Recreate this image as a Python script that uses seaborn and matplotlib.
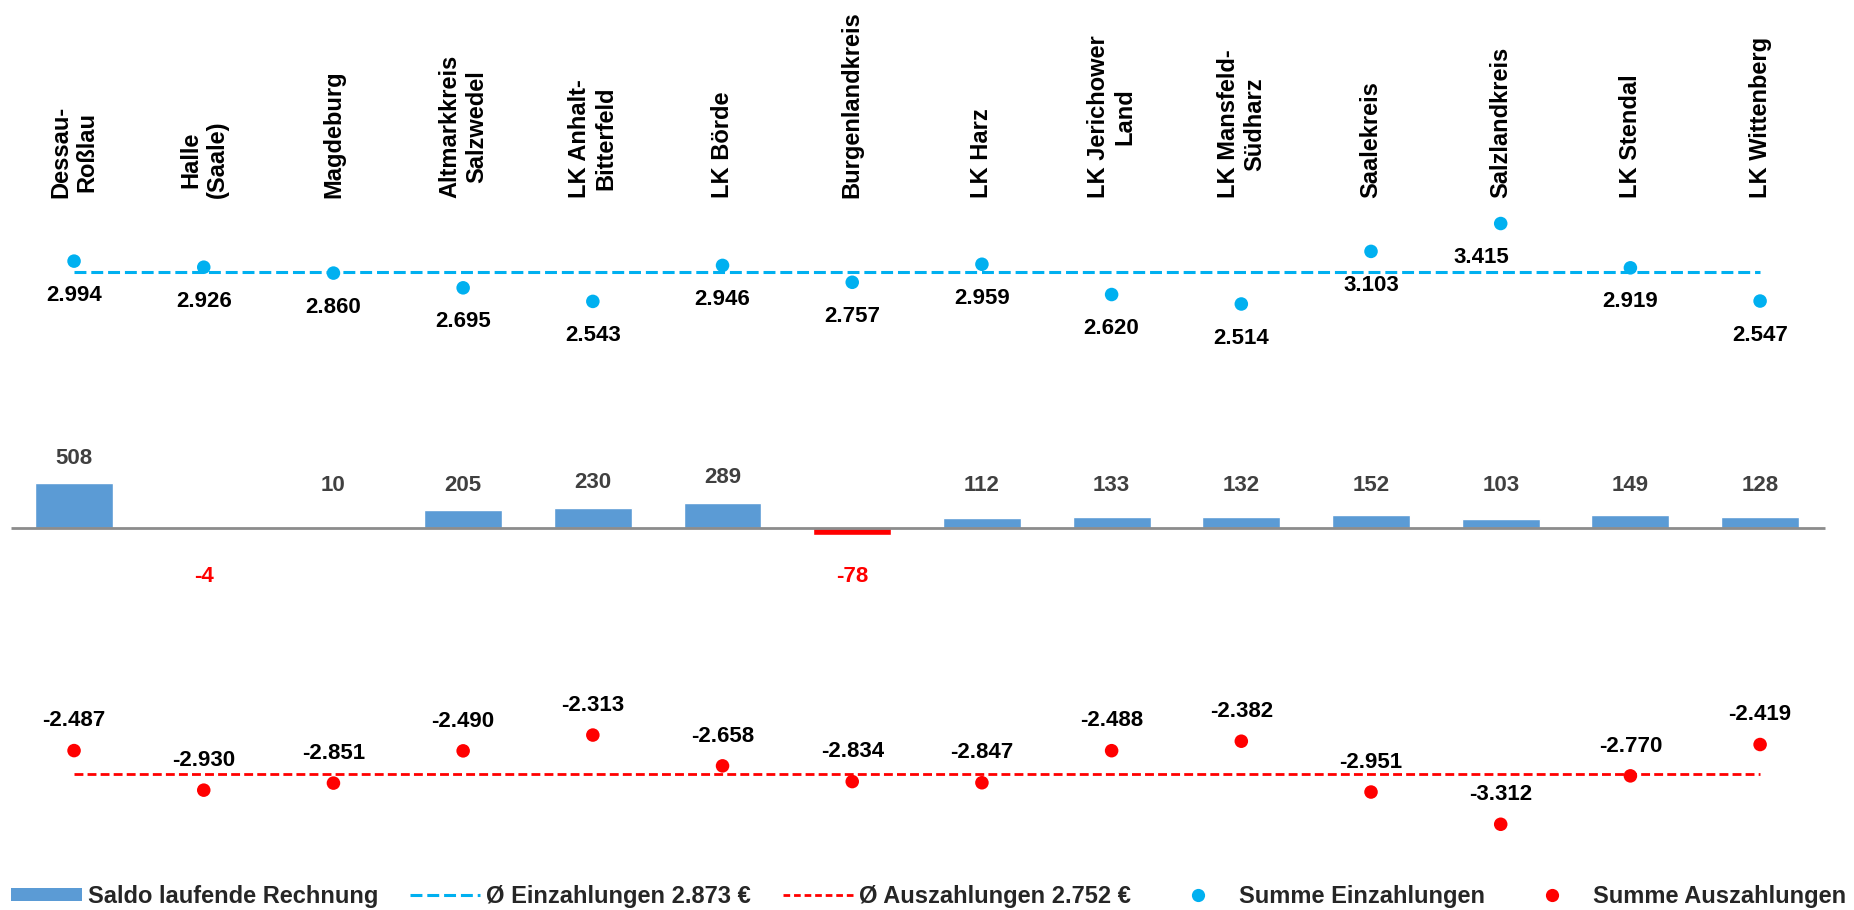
import numpy as np
import pandas as pd
import seaborn as sns
import matplotlib.pyplot as plt
from matplotlib.patches import Patch
from matplotlib.lines import Line2D

# ---- data -------------------------------------------------------------
regions = [
    "Dessau-\nRoßlau", "Halle\n(Saale)", "Magdeburg", "Altmarkkreis\nSalzwedel",
    "LK Anhalt-\nBitterfeld", "LK Börde", "Burgenlandkreis", "LK Harz",
    "LK Jerichower\nLand", "LK Mansfeld-\nSüdharz", "Saalekreis",
    "Salzlandkreis", "LK Stendal", "LK Wittenberg",
]
einzahlungen = [2994, 2926, 2860, 2695, 2543, 2946, 2757, 2959, 2620, 2514, 3103, 3415, 2919, 2547]
auszahlungen = [-2487, -2930, -2851, -2490, -2313, -2658, -2834, -2847, -2488, -2382, -2951, -3312, -2770, -2419]
saldo = [508, -4, 10, 205, 230, 289, -78, 112, 133, 132, 152, 103, 149, 128]
avg_einzahlungen = 2873
avg_auszahlungen = -2752

legend_labels = [
    "Saldo laufende Rechnung",
    "Ø Einzahlungen 2.873 €",
    "Ø Auszahlungen 2.752 €",
    "Summe Einzahlungen",
    "Summe Auszahlungen",
]

# ---- style ------------------------------------------------------------
BAR_BLUE = "#5B9BD5"
DOT_BLUE = "#00B0F0"
RED = "#FF0000"
GREY_TXT = "#404040"
BLUE_DASH = (0, (3.9, 1.6))
RED_DASH = (0, (3.2, 1.5))

sns.set_theme(style="white")
plt.rcParams["font.family"] = ["Liberation Sans", "DejaVu Sans"]
plt.rcParams["font.weight"] = "bold"


def de(v):
    """German number formatting with '.' as thousands separator."""
    return f"{v:,}".replace(",", ".")


n = len(regions)
pos = np.arange(n)
df = pd.DataFrame({
    "pos": pos,
    "saldo": saldo,
    "sign": ["neg" if v < 0 else "pos" for v in saldo],
    "ein": einzahlungen,
    "aus": auszahlungen,
})

fig = plt.figure(figsize=(18.54, 9.10), dpi=100)
ax = fig.add_axes([0, 0, 1, 1])

# balance bars
sns.barplot(data=df, x="pos", y="saldo", hue="sign",
            palette={"pos": BAR_BLUE, "neg": RED}, dodge=False,
            width=0.6, saturation=1, legend=False, ax=ax, zorder=2)

# zero line
ax.hlines(0, -0.49, 13.5, color="#8C8C8C", lw=2, zorder=3)

# average lines
ax.hlines(avg_einzahlungen, 0, n - 1, color=DOT_BLUE, lw=2.2,
          linestyles=BLUE_DASH, zorder=1)
ax.hlines(avg_auszahlungen, 0, n - 1, color=RED, lw=2.0,
          linestyles=RED_DASH, zorder=1)

# totals as dots
sns.scatterplot(data=df, x="pos", y="ein", color=DOT_BLUE, s=95,
                edgecolor="none", legend=False, ax=ax, zorder=4)
sns.scatterplot(data=df, x="pos", y="aus", color=RED, s=95,
                edgecolor="none", legend=False, ax=ax, zorder=4)

LBL = 16

# labels for incoming totals (below the dots)
for i, v in enumerate(einzahlungen):
    dx = -14 if regions[i] == "Salzlandkreis" else 0
    ax.annotate(de(v), (i, v), xytext=(dx, -24.5), textcoords="offset points",
                ha="center", va="center", fontsize=LBL, fontweight="bold",
                color="black")

# labels for outgoing totals (above the dots)
for i, v in enumerate(auszahlungen):
    ax.annotate(de(v), (i, v), xytext=(0, 21.5), textcoords="offset points",
                ha="center", va="center", fontsize=LBL, fontweight="bold",
                color="black")

# balance labels
for i, v in enumerate(saldo):
    if v >= 0:
        ax.text(i, max(v + 280, 487), de(v), ha="center", va="center",
                fontsize=LBL, fontweight="bold", color=GREY_TXT)
    else:
        ax.text(i, -540, de(v), ha="center", va="center",
                fontsize=LBL, fontweight="bold", color=RED)

# region names on top
for i, name in enumerate(regions):
    ax.text(i, 3700, name, rotation=90, ha="center", va="bottom",
            multialignment="center", fontsize=17, fontweight="bold",
            linespacing=1.2, color="black")

ax.set_xlim(-0.571, 13.724)
ax.set_ylim(-4272, 5918)
ax.set_axis_off()

# ---- legend -----------------------------------------------------------
handles = [
    Patch(facecolor=BAR_BLUE, edgecolor="none"),
    Line2D([], [], color=DOT_BLUE, lw=2.2, ls=BLUE_DASH),
    Line2D([], [], color=RED, lw=2.0, ls=(0, (2.4, 1.4))),
    Line2D([], [], ls="none", marker="o", ms=9.5, color=DOT_BLUE, mec="none"),
    Line2D([], [], ls="none", marker="o", ms=9.5, color=RED, mec="none"),
]
fig.legend(handles, legend_labels, loc="center",
           bbox_to_anchor=(0.501, 1 - 896 / 910), ncol=5, frameon=False,
           prop={"size": 17, "weight": "bold"}, handlelength=2.97,
           handleheight=0.47, handletextpad=0.25, columnspacing=1.36,
           borderpad=0, borderaxespad=0)

fig.savefig("out.png", dpi=100, facecolor="white")
